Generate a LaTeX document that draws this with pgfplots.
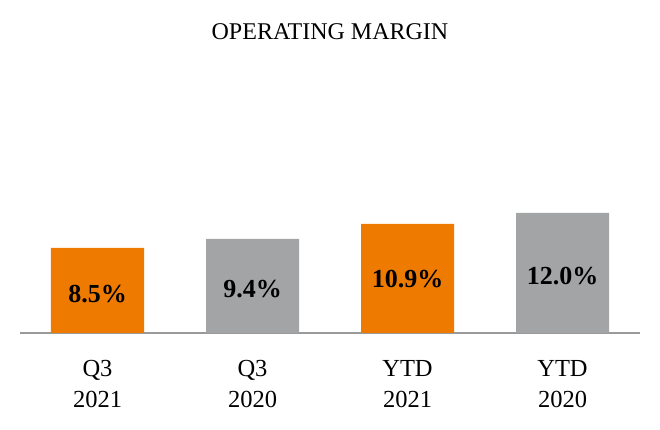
\documentclass[border=0pt]{standalone}
\usepackage{fontspec}
\setmainfont{Liberation Serif}
\usepackage{pgfplots}
\pgfplotsset{compat=1.18}
\definecolor{barorange}{HTML}{EE7B00}
\definecolor{bargray}{HTML}{A2A4A5}
\definecolor{axisgray}{HTML}{9A9A9A}
\begin{document}
\begin{tikzpicture}[x=1pt,y=1pt]
\path[use as bounding box] (0,0) rectangle (660,430);
\begin{axis}[
  at={(20pt,97pt)}, anchor=south west,
  scale only axis, width=620pt, height=200pt,
  xmin=-0.5, xmax=3.5, ymin=0, ymax=20,
  axis x line=bottom, axis y line=none,
  axis line style={-, draw=axisgray, line width=1.5pt},
  xtick={0,1,2,3}, major tick length=0pt,
  xticklabels={Q3\\2021, Q3\\2020, YTD\\2021, YTD\\2020},
  xticklabel style={align=center, anchor=north, yshift=-24pt,
    font=\fontsize{24.5}{31}\selectfont},
  title={OPERATING MARGIN},
  title style={at={(0.5,1)}, anchor=center, yshift=95pt,
    font=\fontsize{24}{28}\selectfont},
  clip=false,
]
  \addplot[ybar, bar width=93pt, bar shift=0pt, fill=barorange, draw=none]
    coordinates {(0,8.5) (2,10.9)};
  \addplot[ybar, bar width=93pt, bar shift=0pt, fill=bargray, draw=none]
    coordinates {(1,9.4) (3,12.0)};
  % value labels, set inside the bars
  \addplot[draw=none, mark=none, nodes near coords, point meta=explicit symbolic,
    every node near coord/.append style={anchor=center,
      font=\fontsize{26}{30}\selectfont\bfseries}]
    coordinates {(0,3.9)[8.5\%] (1,4.4)[9.4\%] (2,5.4)[10.9\%] (3,5.7)[12.0\%]};
\end{axis}
\end{tikzpicture}
\end{document}
